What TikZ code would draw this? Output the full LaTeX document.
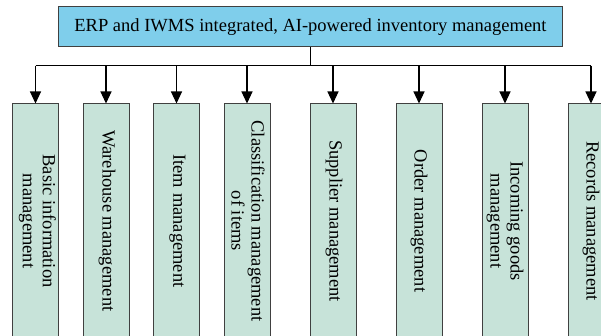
\documentclass[tikz,border=0pt]{standalone}
\usepackage{fontspec}
\setmainfont{Liberation Serif}
\usetikzlibrary{arrows.meta}
\definecolor{topblue}{RGB}{127,206,235}
\definecolor{modgreen}{RGB}{199,227,217}
\definecolor{boxline}{RGB}{64,64,64}
\tikzset{
  topbox/.style={draw=boxline, line width=1pt, fill=topblue, minimum width=504pt, minimum height=40pt, inner sep=0pt,
    font=\fontsize{18.5}{20}\selectfont},
  modbox/.style={draw=boxline, line width=1pt, fill=modgreen, minimum width=46pt, minimum height=236pt, inner sep=0pt},
  modtext/.style={rotate=-90, align=center, inner sep=0pt, font=\fontsize{18.5}{20}\selectfont},
  conn/.style={draw=black, line width=1.1pt},
  arr/.style={conn, -{Triangle[length=12pt,width=11pt]}}
}
\begin{document}
\begin{tikzpicture}[x=1pt,y=-1pt]
\useasboundingbox (0,0) rectangle (601,336);
\clip (0,0) rectangle (601,336);
\node[topbox] (top) at (310.5,26.7) {ERP and IWMS integrated, AI-powered inventory management};
\coordinate (bus) at (0,65.7);
\node[modbox] (b1) at (35.5,222) {};
\node[modbox] (b2) at (106,222) {};
\node[modbox] (b3) at (176.5,222) {};
\node[modbox] (b4) at (247,222) {};
\node[modbox] (b5) at (333,222) {};
\node[modbox] (b6) at (419,222) {};
\node[modbox] (b7) at (505,222) {};
\node[modbox] (b8) at (591,222) {};
\node[modtext] (t1) at (37.5,221) {Basic information\\management};
\node[modtext] (t2) at (107,221) {Warehouse management};
\node[modtext] (t3) at (177.5,221) {Item management};
\node[modtext] (t4) at (248,221) {Classification management\\of items};
\node[modtext] (t5) at (334,221) {Supplier management};
\node[modtext] (t6) at (419,221) {Order management};
\node[modtext] (t7) at (505,221) {Incoming goods\\management};
\node[modtext] (t8) at (591,221) {Records management};
\draw[conn] (top.south) -- (top.south |- bus);
\draw[conn] (b1.north |- bus) -- (b8.north |- bus);
\foreach \b in {b1,b2,b3,b4,b5,b6,b7,b8}
  \draw[arr] (\b.north |- bus) -- (\b.north);
\end{tikzpicture}
\end{document}
